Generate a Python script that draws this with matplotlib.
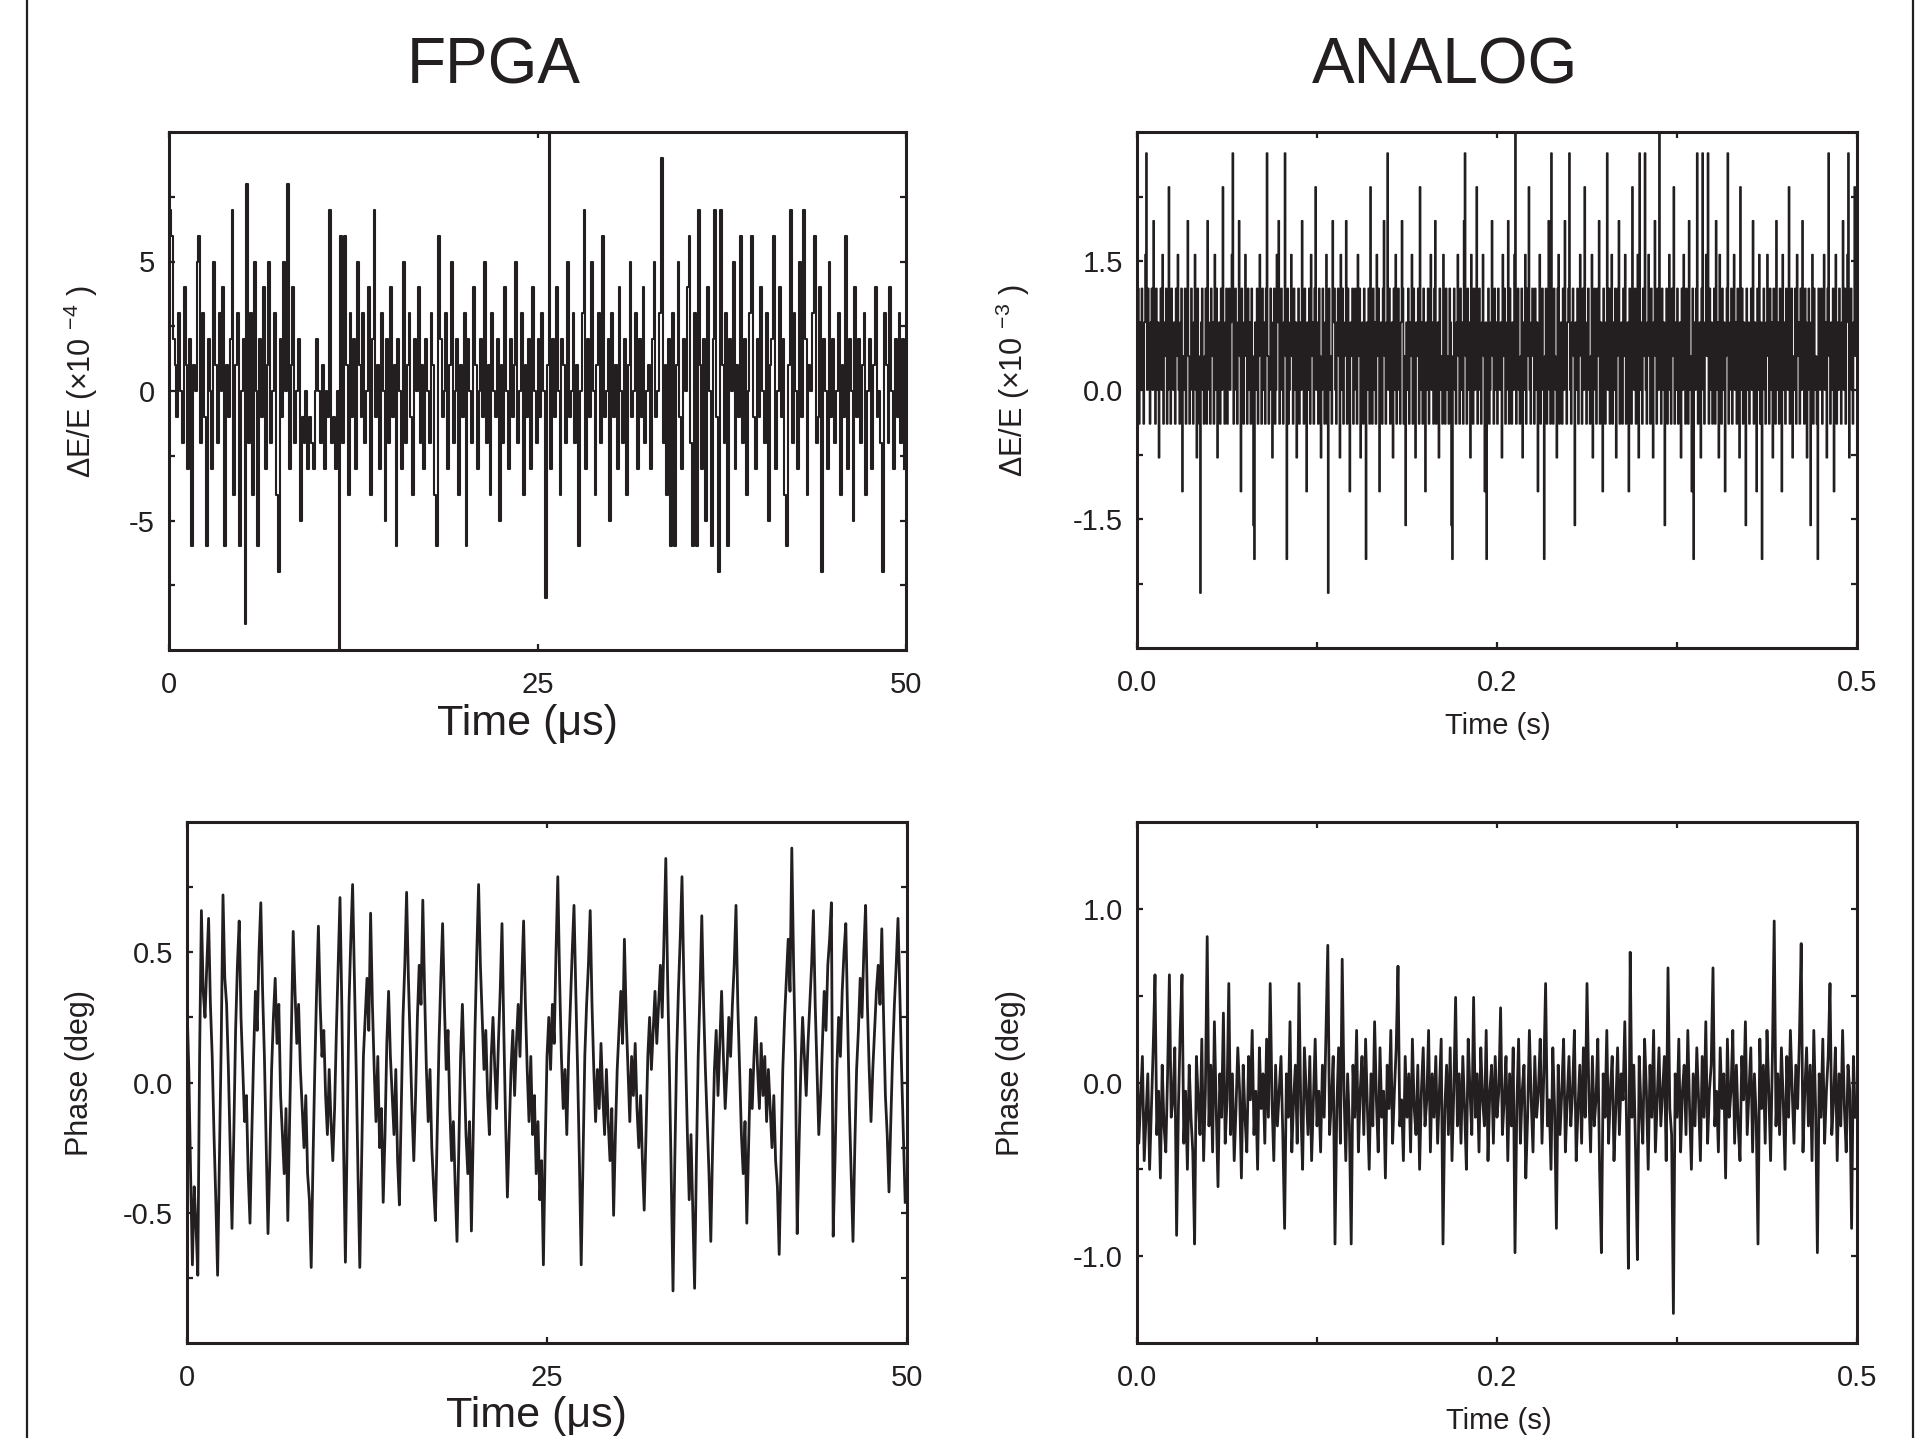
import numpy as np
import matplotlib
matplotlib.use("Agg")
import matplotlib.pyplot as plt
from matplotlib.lines import Line2D

plt.rcParams['font.family'] = ['Liberation Sans', 'DejaVu Sans']
plt.rcParams['mathtext.fontset'] = 'custom'
plt.rcParams['mathtext.rm'] = 'Liberation Sans'
plt.rcParams['mathtext.it'] = 'Liberation Sans:italic'
plt.rcParams['mathtext.bf'] = 'Liberation Sans:bold'
plt.rcParams['axes.unicode_minus'] = False

INK = '#231f20'

# ---------------- data ----------------
# FPGA amplitude noise, dE/E in units of 1e-4, 400 samples over 0-50 us
fpga_de = [
    7, 6, 2, 1, -1, 3, 0, -2, 4, 1, -3, 2, -6, 1, 0, 5, 6, -2, 3, -1,
    -6, 2, 0, -3, 5, 1, -2, 3, 0, 4, -6, 1, -1, 2, 7, -4, 1, 3, -6, 0,
    2, -9, 8, -2, 3, -4, 5, 0, -6, 2, -1, 4, -3, 1, 5, -2, 0, 3, -4, -7,
    2, -1, 5, 0, 8, -3, 1, 4, -2, 0, 2, -5, -1, -2, 0, -3, -1, -2, -3, 0,
    2, 0, -2, 1, -3, 0, -1, 7, -2, -1, -3, 0, -10, 6, -2, 6, 1, -4, 3, -1,
    2, -3, 5, 1, -1, 3, -2, 0, 4, -4, 2, 7, -1, 1, -3, 3, 0, -5, 2, -2,
    4, -1, 1, -6, 2, 0, -3, 5, -2, 1, 3, -1, -4, 2, 0, 4, -2, 1, -3, 2,
    0, -2, 3, 1, -4, -6, 6, 2, -1, 0, 3, -3, 1, 5, -2, 0, 2, -4, 1, -1,
    3, -6, 2, 0, -2, 4, 1, -3, 0, 2, -1, 5, -2, 1, -4, 3, 0, -1, 2, -5,
    1, -2, 4, 0, -3, 2, -1, 1, 5, -2, 0, 3, -4, 1, -1, 2, -3, 4, 0, -2,
    2, -1, 3, 0, -8, 1, 10, -3, 2, -1, 4, 0, -4, 2, 1, -2, 5, -1, 0, 3,
    -2, 1, -6, 0, 3, 7, -3, 2, -1, 5, 0, -4, 1, 3, -2, 6, -1, 0, 2, -5,
    3, -1, 1, -3, 4, 0, -2, 2, -4, 1, 5, -1, 0, 3, -3, 2, -1, 4, -2, 0,
    1, -3, 2, 5, -1, 0, 3, 9, -2, 1, -4, 2, -6, 3, -6, 1, 5, -1, -3, 2,
    0, 4, 6, -2, -6, 3, -6, 7, 1, -3, 2, -5, 4, 0, -6, 2, 7, -1, -7, 7,
    1, -2, 3, -6, 2, 0, 5, -3, 1, -1, 6, -2, 2, -4, 0, 3, 6, -1, -3, 2,
    -1, 4, 0, -2, 3, -5, 1, 2, 6, -3, 0, 4, -1, 2, -4, -6, 1, 7, -2, 3,
    0, -3, 5, -1, 7, 2, -4, 1, 0, 3, 6, -2, -1, 4, -7, 2, 0, -3, 5, -1,
    2, -2, 0, 3, -4, 1, -1, 6, -3, 2, 0, -5, 4, -1, 2, -2, 1, 3, -4, 0,
    2, -3, 1, 4, -1, 0, -2, -7, 3, 1, -2, 4, 0, -3, 2, -1, 3, -2, 2, -3,
]
fpga_span_us = 50.0

# ANALOG amplitude noise: quantised levels (counts), 800 samples over 0-0.5 s,
# and the level step in units of 1e-3
analog_de_counts = [
    1, 3, -1, 2, 0, 3, 1, -1, 2, 4, 7, 0, 3, 1, -1, 2, 3, 0, 5, 1,
    -1, 3, 0, 2, -2, 1, 3, 0, 4, -1, 2, 1, 3, -1, 0, 6, 2, -1, 3, 1,
    0, 2, -1, 3, 1, 4, 0, -1, 2, 3, -3, 1, 0, 3, -1, 2, 5, 1, -1, 0,
    3, 1, -1, 2, 4, 0, -2, 3, 1, -1, -6, 2, 3, 0, -1, 1, 3, -1, 5, 2,
    0, -1, 3, 1, 2, -1, 4, 0, 3, -2, 1, 2, -1, 3, 0, 6, 1, -1, 2, 3,
    -1, 1, 3, 0, 2, 4, 7, -1, 1, 3, 0, -1, 2, 5, 1, -3, 3, 0, -1, 2,
    4, 1, -1, 3, 0, 2, -1, 3, 1, -4, -5, 2, 0, 3, -1, 1, 4, 2, -1, 3,
    0, 2, -1, 3, 7, 1, -1, 0, 3, 2, -2, 1, 3, -1, 0, 4, 2, 5, -1, 1,
    3, 0, -1, 2, 7, 1, -5, 3, -1, 0, 2, 4, 1, -1, 3, 0, 2, -2, 1, 3,
    -1, 2, 0, 5, 1, -1, 3, 1, -3, 2, 0, 3, -1, 4, 1, 2, -1, 3, 6, 0,
    2, -1, 3, 1, -2, 0, 3, 1, -1, 2, 4, -1, -6, 3, 0, 1, -1, 5, 2, 3,
    0, -1, 2, 3, 1, -2, 4, 0, 3, -1, 1, 2, 5, -1, 3, 0, -3, 2, 1, 3,
    -1, 0, 3, 2, -1, 4, 1, 3, -2, 0, 2, -1, 3, 1, -5, 2, 0, 3, -1, 6,
    1, -1, 3, 0, 2, -1, 4, 1, 3, -3, 0, 2, -1, 3, 5, 1, -1, 2, 7, 0,
    3, -1, 1, 2, -2, 3, 0, 4, -1, 1, 3, 0, -1, 2, 5, 3, -1, 1, -4, 2,
    0, 3, -1, 2, 1, 4, -1, 3, 0, -2, 2, 1, 3, -1, 6, 0, 2, -1, 3, 1,
    -3, 2, 0, 3, -1, 1, 4, 0, 2, -1, 3, 5, -1, 1, 2, -2, 3, 0, 1, -1,
    4, 2, -1, 3, 0, 1, -1, 3, 2, -4, -5, 1, 3, 0, -1, 2, 4, 1, -1, 3,
    0, 2, -1, 5, 7, 1, -1, 3, 0, 2, -2, 4, 1, -1, 3, 0, 2, 6, -1, 1,
    3, 0, -1, 2, 4, 1, -3, 2, -5, 1, 3, -1, 0, 2, 5, 1, -1, 3, 0, 2,
    -1, 3, 1, 0, 2, -2, 4, 1, 3, -1, 0, 2, 5, -1, 3, 1, -1, 2, 0, 4,
    8, -1, 2, 3, 0, -1, 1, 3, -2, 2, 0, 4, -1, 3, 1, 6, 0, -1, 2, 3,
    1, -1, 3, 0, 2, -3, 1, 4, -1, 2, 3, 0, -5, 1, 3, -1, 2, 5, 0, -1,
    7, 2, -1, 3, 1, 0, -2, 3, 4, -1, 1, 2, -1, 3, 0, 5, 1, -1, 2, 3,
    7, 0, -1, 2, 3, 1, -4, 2, 0, 3, -1, 1, 4, 2, -1, 3, 0, 6, 1, -1,
    2, 3, 0, -1, 1, 4, -2, 2, 3, 0, -1, 3, 1, 5, -1, 2, 0, -3, 3, 1,
    -1, 2, 7, 0, 3, -1, 1, 4, -1, 2, 0, 3, -2, 1, 3, 5, -1, 0, 2, -1,
    3, 1, 4, -1, 0, 2, -3, 3, 1, -1, 6, 2, 0, 3, -1, 1, 4, -2, 7, 0,
    2, -1, 3, 1, 7, 0, -1, 2, 4, 1, -1, 3, 0, -2, 2, 5, 1, -1, 3, 0,
    8, 1, -1, 3, 0, 2, -4, 1, 3, -1, 2, 4, 0, -1, 3, 1, 6, -1, 2, 0,
    3, -1, 1, 2, -2, 3, 0, 4, 1, -1, 3, 2, -1, 5, 0, 1, -3, 3, -5, 2,
    0, 3, 7, -1, 1, 2, -2, 3, 7, 0, -1, 2, 4, 1, 7, -1, 3, 0, 2, -1,
    1, 3, -1, 5, 0, 2, -2, 4, 1, -1, 3, 0, 2, -3, 1, 3, 7, -1, 0, 2,
    3, -1, 1, 4, 0, 2, -1, 3, 1, -2, 6, 0, 3, -1, 2, 1, -4, 3, 0, 2,
    -1, 1, 3, 0, 5, -1, 2, 1, -3, 3, 0, 4, -1, 2, -5, 1, 3, 0, -1, 2,
    4, 1, -1, 3, 0, 2, -2, 3, 1, -1, 5, 0, 2, -1, 3, 1, -3, 4, 0, 2,
    -1, 3, 1, 0, 6, -1, 2, 3, -2, 1, 0, 3, -1, 4, 1, 2, -1, 3, 0, 5,
    1, -1, 3, 2, -2, 0, 3, 1, -4, 2, 4, -1, 3, 0, 1, -1, -5, 3, 2, 0,
    3, -1, 1, 4, 0, 2, -2, 3, 7, 1, -1, 2, 0, 3, -3, 1, 4, -1, 2, 0,
    3, 1, -1, 2, 5, 0, 3, -1, 2, 4, 7, -2, 1, 3, 0, -1, 2, 6, 1, 3,
]
analog_step = 0.3934
analog_span_s = 0.5

# FPGA phase (deg), 400 samples over 0-50 us
fpga_phase = [
    0.30, 0.05, -0.35, -0.70, -0.40, -0.55, -0.74, 0.10, 0.66, 0.35, 0.25, 0.45, 0.63, 0.30, 0.10, -0.20, -0.45, -0.74, -0.30, 0.15,
    0.72, 0.40, 0.30, 0.05, -0.25, -0.56, -0.20, 0.20, 0.45, 0.62, 0.25, 0.05, -0.15, -0.05, -0.35, -0.54, -0.20, 0.10, 0.35, 0.20,
    0.50, 0.69, 0.35, 0.10, -0.25, -0.58, -0.30, 0.05, 0.25, 0.40, 0.15, 0.30, -0.05, -0.20, -0.35, -0.10, -0.53, -0.15, 0.20, 0.58,
    0.35, 0.15, 0.30, 0.05, -0.10, -0.25, -0.05, -0.35, -0.45, -0.71, -0.30, 0.05, 0.35, 0.60, 0.30, 0.10, 0.20, -0.05, -0.20, 0.05,
    -0.15, -0.30, -0.10, 0.20, 0.45, 0.71, 0.30, -0.25, -0.69, -0.20, 0.30, 0.55, 0.76, 0.40, 0.05, -0.35, -0.71, -0.30, 0.10, 0.25,
    0.40, 0.20, 0.65, 0.30, 0.05, -0.15, 0.10, -0.25, -0.10, -0.46, -0.20, 0.15, 0.35, 0.10, -0.05, -0.20, 0.05, -0.30, -0.47, -0.10,
    0.25, 0.45, 0.73, 0.40, 0.15, -0.10, -0.30, -0.05, 0.25, 0.45, 0.30, 0.70, 0.35, 0.05, -0.15, 0.05, -0.25, -0.40, -0.53, -0.20,
    0.15, 0.40, 0.61, 0.30, 0.05, 0.20, -0.10, -0.30, -0.15, -0.40, -0.61, -0.25, 0.10, 0.30, 0.05, -0.20, -0.35, -0.15, -0.57, -0.20,
    0.20, 0.50, 0.76, 0.45, 0.25, 0.05, 0.20, -0.05, -0.20, 0.10, 0.25, 0.05, -0.10, 0.15, 0.35, 0.61, 0.20, -0.15, -0.44, -0.20,
    0.05, 0.20, -0.05, 0.15, 0.30, 0.10, 0.40, 0.62, 0.30, 0.05, -0.15, 0.10, -0.20, -0.05, -0.35, -0.15, -0.45, -0.30, -0.70, -0.25,
    0.10, 0.25, 0.05, 0.30, 0.15, 0.50, 0.79, 0.40, 0.10, -0.10, 0.05, -0.20, 0.10, 0.30, 0.50, 0.68, 0.35, 0.05, -0.30, -0.70,
    -0.30, 0.10, 0.30, 0.45, 0.66, 0.30, 0.05, -0.15, 0.05, -0.10, 0.15, -0.05, -0.20, 0.05, -0.15, -0.30, -0.10, -0.51, -0.20, 0.05,
    0.20, 0.35, 0.15, 0.55, 0.25, 0.05, -0.15, 0.10, -0.05, 0.15, -0.10, -0.25, -0.05, -0.30, -0.49, -0.20, 0.10, 0.25, 0.05, 0.20,
    0.35, 0.15, 0.30, 0.45, 0.25, 0.55, 0.86, 0.40, 0.05, -0.35, -0.80, -0.30, 0.10, 0.35, 0.55, 0.79, 0.40, 0.10, -0.20, -0.45,
    -0.20, -0.50, -0.79, -0.30, 0.10, 0.35, 0.64, 0.30, 0.05, -0.15, -0.35, -0.61, -0.25, 0.05, 0.20, -0.05, 0.15, 0.35, 0.10, -0.10,
    0.05, 0.25, 0.10, 0.30, 0.45, 0.68, 0.30, 0.05, -0.20, -0.35, -0.15, -0.54, -0.25, 0.05, -0.10, 0.10, 0.25, 0.05, -0.10, 0.15,
    -0.05, 0.10, -0.15, 0.05, -0.10, -0.25, -0.05, -0.30, -0.40, -0.66, -0.30, 0.05, 0.25, 0.40, 0.55, 0.35, 0.90, 0.45, 0.10, -0.58,
    -0.25, 0.05, 0.25, 0.10, -0.05, 0.15, 0.30, 0.45, 0.66, 0.30, 0.05, -0.20, -0.05, 0.15, 0.35, 0.20, 0.45, 0.55, 0.69, -0.59,
    -0.30, 0.05, 0.25, 0.10, 0.35, 0.50, 0.61, 0.25, -0.10, -0.35, -0.61, -0.25, 0.05, 0.20, 0.40, 0.25, 0.50, 0.68, 0.30, 0.05,
    -0.15, 0.05, 0.20, 0.35, 0.45, 0.30, 0.59, 0.25, -0.05, -0.20, -0.42, -0.15, 0.10, 0.30, 0.45, 0.63, 0.35, 0.05, -0.20, -0.46,
]

# ANALOG phase (deg), 400 samples over 0-0.5 s
analog_phase = [
    0.25, -0.35, -0.10, 0.15, -0.45, -0.20, 0.05, -0.50, -0.15, 0.20, 0.62, -0.30, -0.05, -0.55, 0.10, -0.25, -0.40, 0.05, 0.62, -0.20,
    -0.10, 0.20, -0.88, -0.15, 0.30, 0.62, -0.35, -0.05, -0.50, 0.10, -0.20, -0.40, -0.93, 0.15, -0.10, -0.30, 0.25, -0.45, -0.05, 0.84,
    -0.25, 0.10, -0.40, 0.35, -0.15, -0.60, 0.05, -0.20, 0.40, -0.35, -0.10, 0.57, -0.30, 0.05, -0.45, -0.15, 0.20, -0.05, -0.55, 0.10,
    -0.20, -0.40, 0.15, -0.10, 0.30, -0.30, -0.05, -0.50, 0.20, -0.15, 0.05, -0.35, 0.25, -0.20, 0.57, -0.10, -0.45, 0.10, -0.25, -0.05,
    0.15, -0.30, -0.84, 0.05, -0.20, 0.35, -0.40, -0.10, 0.10, -0.35, 0.57, -0.15, -0.50, 0.20, -0.05, -0.30, 0.15, -0.45, -0.10, 0.25,
    -0.25, -0.05, -0.40, 0.10, -0.20, 0.30, 0.79, -0.30, -0.10, 0.15, -0.93, -0.15, 0.20, -0.35, 0.71, -0.05, -0.45, 0.05, -0.25, -0.93,
    0.10, -0.20, 0.30, -0.40, -0.05, 0.15, -0.30, 0.25, -0.15, -0.50, 0.05, -0.25, 0.35, -0.10, -0.40, 0.20, -0.20, -0.05, -0.55, 0.10,
    -0.15, 0.30, -0.35, -0.05, 0.20, 0.67, -0.25, -0.10, -0.45, 0.15, -0.20, 0.05, -0.40, 0.25, -0.15, -0.30, 0.10, -0.50, -0.05, 0.20,
    -0.25, -0.10, 0.30, -0.40, 0.05, -0.20, 0.15, -0.35, -0.05, 0.25, -0.93, -0.15, 0.10, -0.30, 0.20, -0.45, -0.05, 0.49, -0.25, 0.05,
    -0.35, 0.15, -0.15, -0.50, 0.25, -0.05, -0.30, 0.49, -0.20, 0.05, -0.40, 0.20, -0.10, -0.25, 0.30, -0.45, -0.05, 0.10, -0.35, 0.15,
    -0.20, -0.05, 0.43, -0.30, -0.10, 0.15, -0.45, 0.05, -0.25, 0.20, -0.98, -0.15, 0.25, -0.35, -0.05, 0.10, -0.55, -0.20, 0.30, -0.10,
    -0.40, 0.15, -0.20, -0.05, 0.25, -0.35, 0.05, 0.57, -0.25, -0.10, -0.50, 0.20, -0.15, -0.84, 0.10, -0.30, -0.05, 0.25, -0.40, -0.10,
    0.15, -0.25, -0.05, 0.30, -0.45, -0.15, 0.10, -0.35, 0.20, -0.20, 0.57, -0.05, -0.40, 0.15, -0.25, -0.10, 0.25, -0.50, -0.98, 0.05,
    -0.20, 0.30, -0.35, -0.05, 0.15, -0.45, -0.15, 0.20, -0.30, 0.05, -0.10, 0.35, -0.25, -1.07, 0.75, -0.20, 0.10, -0.40, -1.02, 0.15,
    -0.15, -0.35, 0.25, -0.05, -0.50, 0.10, -0.20, 0.30, -0.40, -0.10, 0.20, -0.25, -0.05, 0.15, -0.45, 0.66, -0.15, -0.30, -1.33, 0.05,
    -0.20, 0.25, -0.40, -0.05, 0.10, -0.30, 0.30, -0.15, -0.50, 0.05, -0.25, 0.20, -0.10, -0.45, 0.15, -0.20, 0.35, -0.35, -0.05, 0.10,
    0.66, -0.25, -0.05, -0.40, 0.20, -0.15, 0.05, -0.55, 0.25, -0.20, -0.05, 0.30, -0.35, 0.10, -0.25, -0.45, 0.15, -0.10, 0.35, -0.30,
    -0.05, 0.20, -0.40, 0.05, -0.20, -0.93, 0.25, -0.15, 0.10, -0.35, 0.30, -0.05, -0.45, 0.15, 0.93, -0.25, 0.05, -0.30, 0.20, -0.10,
    -0.50, 0.15, -0.20, 0.30, -0.05, -0.35, 0.10, -0.15, 0.25, 0.80, -0.40, -0.05, 0.20, -0.25, 0.10, -0.45, 0.30, -0.15, -0.98, 0.05,
    -0.20, 0.25, -0.35, -0.05, 0.15, 0.57, -0.30, -0.10, 0.20, -0.45, 0.05, -0.25, 0.30, -0.15, -0.40, 0.10, -0.05, -0.84, 0.15, -0.20,
]

titles = ['FPGA', 'ANALOG']
xlabel_fpga = 'Time (μs)'
xlabel_analog = 'Time (s)'
ylabel_de_fpga = 'ΔE/E (×10 $^{-4}$ )'
ylabel_de_analog = 'ΔE/E (×10 $^{-3}$ )'
ylabel_phase = 'Phase (deg)'

# ---------------- figure ----------------
W, H = 1923, 1438
fig = plt.figure(figsize=(W / 100, H / 100), dpi=100)
fig.patch.set_facecolor('white')


def rect(x0, y0, x1, y1):
    return [x0 / W, 1 - y1 / H, (x1 - x0) / W, (y1 - y0) / H]


ax_tl = fig.add_axes(rect(169, 132, 906, 650))
ax_tr = fig.add_axes(rect(1137, 132, 1857, 648))
ax_bl = fig.add_axes(rect(187, 822, 907, 1343))
ax_br = fig.add_axes(rect(1137, 822, 1857, 1343))

TICK_FS = 21


def style(ax):
    for s in ax.spines.values():
        s.set_linewidth(2.2)
        s.set_color(INK)
        s.set_zorder(5)
    ax.tick_params(direction='in', length=4.5, width=1.6, top=True, right=True,
                   colors=INK, labelsize=TICK_FS)
    ax.tick_params(axis='x', pad=15)
    ax.tick_params(axis='y', pad=10)


# top-left: FPGA dE/E
t_fpga = np.arange(len(fpga_de)) * (fpga_span_us / len(fpga_de))
ax_tl.plot(t_fpga, fpga_de, color=INK, lw=1.5, drawstyle='steps-post')
ax_tl.set_xlim(0, 50)
ax_tl.set_ylim(-10, 10)
ax_tl.set_xticks([0, 25, 50], labels=['0', '25', '50'])
ax_tl.set_yticks([-7.5, -5, -2.5, 0, 2.5, 5, 7.5], labels=['', '-5', '', '0', '', '5', ''])

# top-right: ANALOG dE/E
t_an = np.arange(len(analog_de_counts)) * (analog_span_s / len(analog_de_counts))
ax_tr.plot(t_an, np.array(analog_de_counts) * analog_step, color=INK, lw=1.3, drawstyle='steps-post')
ax_tr.set_xlim(0, 0.5)
ax_tr.set_ylim(-3, 3)
ax_tr.set_xticks([0, 0.125, 0.25, 0.375, 0.5], labels=['0.0', '', '0.2', '', '0.5'])
ax_tr.set_yticks([-2.25, -1.5, -0.75, 0, 0.75, 1.5, 2.25], labels=['', '-1.5', '', '0.0', '', '1.5', ''])

# bottom-left: FPGA phase
t_fp = np.arange(len(fpga_phase)) * (fpga_span_us / len(fpga_phase))
ax_bl.plot(t_fp, fpga_phase, color=INK, lw=2.0)
ax_bl.set_xlim(0, 50)
ax_bl.set_ylim(-1, 1)
ax_bl.set_xticks([0, 25, 50], labels=['0', '25', '50'])
ax_bl.set_yticks([-0.75, -0.5, -0.25, 0, 0.25, 0.5, 0.75], labels=['', '-0.5', '', '0.0', '', '0.5', ''])

# bottom-right: ANALOG phase
t_ap = np.arange(len(analog_phase)) * (analog_span_s / len(analog_phase))
ax_br.plot(t_ap, analog_phase, color=INK, lw=2.0)
ax_br.set_xlim(0, 0.5)
ax_br.set_ylim(-1.5, 1.5)
ax_br.set_xticks([0, 0.125, 0.25, 0.375, 0.5], labels=['0.0', '', '0.2', '', '0.5'])
ax_br.set_yticks([-1, -0.5, 0, 0.5, 1], labels=['-1.0', '', '0.0', '', '1.0'])

for ax in (ax_tl, ax_tr, ax_bl, ax_br):
    style(ax)

# axis labels
ax_tl.set_xlabel(xlabel_fpga, fontsize=31, color=INK)
ax_tl.xaxis.set_label_coords(0.486, -0.143)
ax_bl.set_xlabel(xlabel_fpga, fontsize=31, color=INK)
ax_bl.xaxis.set_label_coords(0.485, -0.140)
ax_tr.set_xlabel(xlabel_analog, fontsize=21, color=INK)
ax_tr.xaxis.set_label_coords(0.501, -0.151)
ax_br.set_xlabel(xlabel_analog, fontsize=21, color=INK)
ax_br.xaxis.set_label_coords(0.503, -0.150)
for ax in (ax_tl, ax_bl, ax_tr, ax_br):
    ax.xaxis.label.set_va('center')

ax_tl.set_ylabel(ylabel_de_fpga, fontsize=22, color=INK)
ax_tl.yaxis.set_label_coords(-0.119, 0.519)
ax_tr.set_ylabel(ylabel_de_analog, fontsize=22, color=INK)
ax_tr.yaxis.set_label_coords(-0.172, 0.519)
ax_bl.set_ylabel(ylabel_phase, fontsize=22, color=INK)
ax_bl.yaxis.set_label_coords(-0.149, 0.518)
ax_br.set_ylabel(ylabel_phase, fontsize=22, color=INK)
ax_br.yaxis.set_label_coords(-0.175, 0.518)
for ax in (ax_tl, ax_bl, ax_tr, ax_br):
    ax.yaxis.label.set_va('center')

# column titles
fig.text(494 / W, 1 - 67 / H, titles[0], fontsize=46, color=INK, ha='center', va='center')
fig.text(1445 / W, 1 - 67 / H, titles[1], fontsize=46, color=INK, ha='center', va='center')

# outer frame side lines
fig.add_artist(Line2D([27 / W, 27 / W], [0, 1], transform=fig.transFigure, color=INK, lw=1.6))
fig.add_artist(Line2D([1913 / W, 1913 / W], [0, 1], transform=fig.transFigure, color=INK, lw=1.6))

fig.savefig('out.png', dpi=100, facecolor='white')
